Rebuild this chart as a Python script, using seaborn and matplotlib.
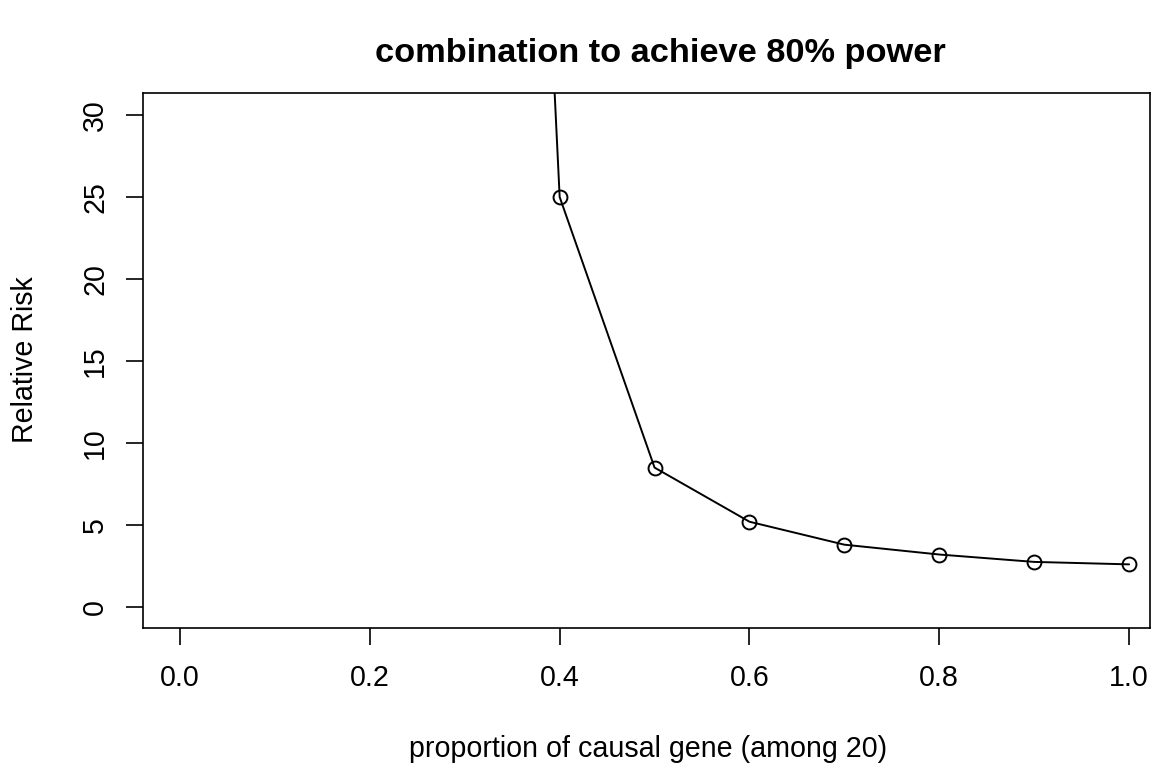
import numpy as np
import pandas as pd
import seaborn as sns
import matplotlib.pyplot as plt

# proportion of causal genes vs. relative risk needed for 80% power
proportion = [0.3, 0.4, 0.5, 0.6, 0.7, 0.8, 0.9, 1.0]
relative_risk = [145.0, 25.0, 8.5, 5.2, 3.8, 3.2, 2.75, 2.6]

x_ticks = [0.0, 0.2, 0.4, 0.6, 0.8, 1.0]
y_ticks = [0, 5, 10, 15, 20, 25, 30]

df = pd.DataFrame({"prop": proportion, "rr": relative_risk})

sns.set_theme(style="ticks")
plt.rcParams['font.family'] = ['Liberation Sans', 'DejaVu Sans']
plt.rcParams['text.color'] = 'black'

W, H = 1170, 768
base_fs = 20.6

fig = plt.figure(figsize=(W / 100, H / 100), dpi=100)
ax = fig.add_axes([143 / W, 1 - 628 / H, (1150 - 143) / W, (628 - 93) / H])

sns.lineplot(data=df, x="prop", y="rr", ax=ax, color="black", linewidth=1.4,
             marker="o", markersize=10, markerfacecolor="none",
             markeredgecolor="black", markeredgewidth=1.4, sort=False)

ax.set_xlim(-0.039, 1.022)
ax.set_ylim(-1.28, 31.34)
ax.set_xticks(x_ticks)
ax.set_xticklabels(["{:.1f}".format(v) for v in x_ticks])
ax.set_yticks(y_ticks)
ax.set_yticklabels([str(v) for v in y_ticks], rotation=90, va="center")
ax.tick_params(axis="both", length=12.2, width=1.2, color="black",
               labelsize=base_fs, labelcolor="black")
ax.tick_params(axis="x", pad=14)
ax.tick_params(axis="y", pad=12.2)
for s in ax.spines.values():
    s.set_visible(True)
    s.set_color("black")
    s.set_linewidth(1.2)

ax.set_xlabel("")
ax.set_ylabel("")
fig.text(648 / W, 1 - 757 / H, "proportion of causal gene (among 20)",
         ha="center", va="baseline", fontsize=base_fs, color="black")
fig.text(39 / W, 1 - 360 / H, "Relative Risk", rotation=90,
         ha="right", va="center", fontsize=base_fs, color="black")
fig.text(660 / W, 1 - 62 / H, "combination to achieve 80% power",
         ha="center", va="baseline", fontsize=base_fs * 1.2,
         fontweight="bold", color="black")

plt.savefig("out.png", dpi=100)
plt.close()
